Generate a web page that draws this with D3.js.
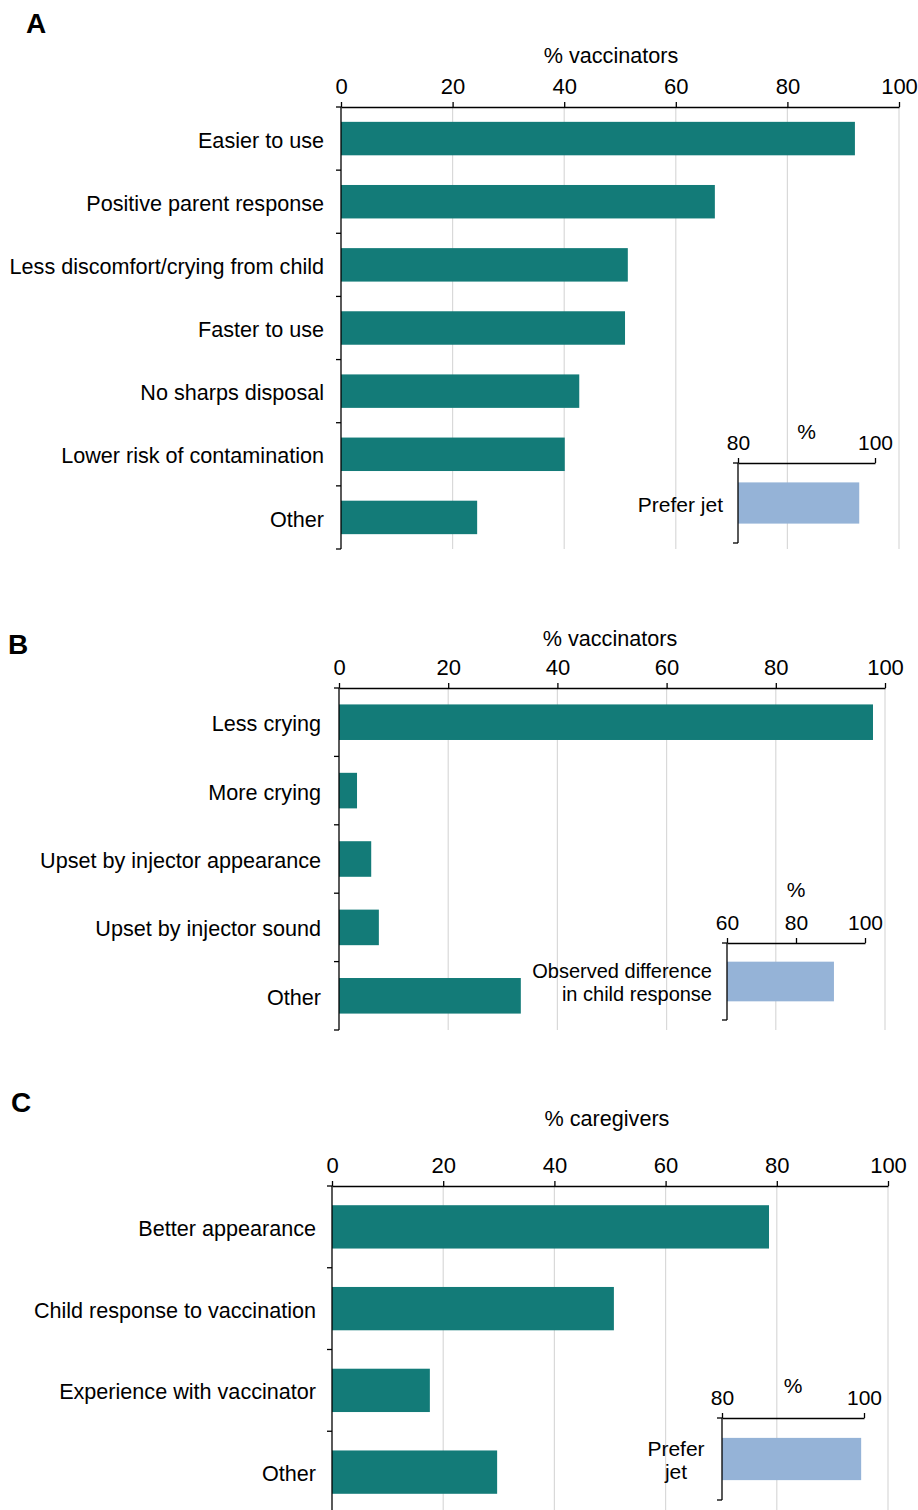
<!DOCTYPE html>
<html>
<head>
<meta charset="utf-8">
<script src="https://cdn.jsdelivr.net/npm/d3@7"></script>
<style>
  body { margin: 0; background: #fff; }
  svg text { font-family: "Liberation Sans", Arial, Helvetica, sans-serif; fill: #000; }
</style>
</head>
<body>
<div class="figure"></div>
<script>
// categories and values
var catsA = ["Easier to use", "Positive parent response", "Less discomfort/crying from child",
             "Faster to use", "No sharps disposal", "Lower risk of contamination", "Other"];
var valsA = [92.1, 67.0, 51.4, 50.9, 42.7, 40.1, 24.4];

var catsB = ["Less crying", "More crying", "Upset by injector appearance", "Upset by injector sound", "Other"];
var valsB = [97.8, 3.3, 5.9, 7.3, 33.3];

var catsC = ["Better appearance", "Child response to vaccination", "Experience with vaccinator", "Other"];
var valsC = [78.6, 50.7, 17.6, 29.7];

var mainTicks = [0, 20, 40, 60, 80, 100];

var insetA = {label: ["Prefer jet"], value: 97.7, ticks: [80, 100]};
var insetB = {label: ["Observed difference", "in child response"], value: 91.0, ticks: [60, 80, 100]};
var insetC = {label: ["Prefer", "jet"], value: 99.6, ticks: [80, 100]};

var width = 918, height = 1510;
var teal = "#137b78", blue = "#95b3d7", grid = "#d9d9d9";

var svg = d3.select(".figure")
  .append("svg")
  .attr("width", width)
  .attr("height", height);

// draws one main horizontal bar panel
function barPanel(cfg, cats, vals) {
  var x = d3.scaleLinear().domain([0, 100]).range([cfg.x0, cfg.x1]);
  var y = d3.scaleBand().domain(cats).range([cfg.axisY, cfg.bottom])
    .paddingInner(cfg.pad).paddingOuter(cfg.pad / 2);

  var g = svg.append("g");

  // gridlines
  g.selectAll(".grid")
    .data(mainTicks.filter(t => t > 0))
    .enter().append("line")
    .attr("x1", d => x(d)).attr("x2", d => x(d))
    .attr("y1", cfg.axisY).attr("y2", cfg.bottom)
    .style("stroke", grid).style("stroke-width", 1.2);

  g.selectAll(".bar")
    .data(cats)
    .enter().append("rect")
    .attr("x", x(0))
    .attr("y", d => y(d))
    .attr("width", (d, i) => x(vals[i]) - x(0))
    .attr("height", y.bandwidth())
    .style("fill", teal);

  var xAxis = d3.axisTop(x).tickValues(mainTicks).tickSize(5).tickPadding(8).tickSizeOuter(0);
  g.append("g")
    .attr("transform", `translate(0,${cfg.axisY})`)
    .call(xAxis)
    .call(a => a.selectAll("text").style("font-size", "22px").style("font-family", null))
    .call(a => a.selectAll("line,path").style("stroke", "#000").style("stroke-width", 1.3));

  // y axis: ticks at band boundaries
  var bounds = cats.map(c => y(c) - y.step() * y.paddingInner() / 2).concat([cfg.bottom]);
  g.append("line")
    .attr("x1", x(0)).attr("x2", x(0))
    .attr("y1", cfg.axisY).attr("y2", cfg.bottom)
    .style("stroke", "#000").style("stroke-width", 1.3);
  g.selectAll(".ytick")
    .data(bounds)
    .enter().append("line")
    .attr("x1", x(0) - 5).attr("x2", x(0))
    .attr("y1", d => d).attr("y2", d => d)
    .style("stroke", "#000").style("stroke-width", 1.3);

  g.selectAll(".cat")
    .data(cats)
    .enter().append("text")
    .attr("x", x(0) - cfg.labelGap)
    .attr("y", d => y(d) + y.bandwidth() / 2)
    .attr("dy", "0.42em")
    .attr("text-anchor", "end")
    .style("font-size", "21.6px")
    .text(d => d);

  g.append("text")
    .attr("x", cfg.titleX)
    .attr("y", cfg.titleY)
    .attr("dy", "0.35em")
    .attr("text-anchor", "middle")
    .style("font-size", "21.6px")
    .text(cfg.title);

  svg.append("text")
    .attr("x", cfg.letterX)
    .attr("y", cfg.letterY)
    .style("font-size", "28px")
    .style("font-weight", "bold")
    .text(cfg.letter);
}

// small inset bar with its own axis
function insetPanel(cfg, ins) {
  var x = d3.scaleLinear().domain([ins.ticks[0], 100]).range([cfg.x0, cfg.x1]);
  var y = d3.scaleBand().domain(["v"]).range([cfg.axisY, cfg.bottom]).padding(0.32);
  var g = svg.append("g");

  g.append("rect")
    .attr("x", x(ins.ticks[0]))
    .attr("y", y("v"))
    .attr("width", x(ins.value) - x(ins.ticks[0]))
    .attr("height", y.bandwidth())
    .style("fill", blue);

  g.append("g")
    .attr("transform", `translate(0,${cfg.axisY})`)
    .call(d3.axisTop(x).tickValues(ins.ticks).tickSize(5).tickPadding(8).tickSizeOuter(0))
    .call(a => a.selectAll("text").style("font-size", "21px").style("font-family", null))
    .call(a => a.selectAll("line,path").style("stroke", "#000").style("stroke-width", 1.3));

  g.append("line")
    .attr("x1", x.range()[0]).attr("x2", x.range()[0])
    .attr("y1", cfg.axisY).attr("y2", cfg.bottom)
    .style("stroke", "#000").style("stroke-width", 1.3);
  g.selectAll(".ytick")
    .data([cfg.axisY, cfg.bottom])
    .enter().append("line")
    .attr("x1", x.range()[0] - 5).attr("x2", x.range()[0])
    .attr("y1", d => d).attr("y2", d => d)
    .style("stroke", "#000").style("stroke-width", 1.3);

  g.append("text")
    .attr("x", (cfg.x0 + cfg.x1) / 2)
    .attr("y", cfg.pctY)
    .attr("dy", "0.35em")
    .attr("text-anchor", "middle")
    .style("font-size", "21px")
    .text("%");

  var mid = y("v") + y.bandwidth() / 2;
  var n = ins.label.length;
  g.selectAll(".ilab")
    .data(ins.label)
    .enter().append("text")
    .attr("x", cfg.labelX)
    .attr("y", (d, i) => mid + (i - (n - 1) / 2) * 23)
    .attr("dy", "0.42em")
    .attr("text-anchor", cfg.anchor)
    .style("font-size", cfg.fontSize)
    .text(d => d);
}

barPanel({x0: 341, x1: 899, axisY: 107, bottom: 549, pad: 0.47, labelGap: 17,
          title: "% vaccinators", titleX: 611, titleY: 55, letter: "A", letterX: 26, letterY: 33}, catsA, valsA);
insetPanel({x0: 738, x1: 875, axisY: 463, bottom: 543, pctY: 432, labelX: 723, anchor: "end", fontSize: "21px"}, insetA);

barPanel({x0: 339, x1: 885, axisY: 688, bottom: 1030, pad: 0.48, labelGap: 18,
          title: "% vaccinators", titleX: 610, titleY: 638, letter: "B", letterX: 8, letterY: 654}, catsB, valsB);
insetPanel({x0: 727, x1: 865, axisY: 943, bottom: 1020, pctY: 890, labelX: 712, anchor: "end", fontSize: "20px"}, insetB);

barPanel({x0: 332, x1: 888, axisY: 1186, bottom: 1513, pad: 0.47, labelGap: 16,
          title: "% caregivers", titleX: 607, titleY: 1118, letter: "C", letterX: 11, letterY: 1112}, catsC, valsC);
insetPanel({x0: 722, x1: 864, axisY: 1418, bottom: 1500, pctY: 1386, labelX: 676, anchor: "middle", fontSize: "21px"}, insetC);
</script>
</body>
</html>
